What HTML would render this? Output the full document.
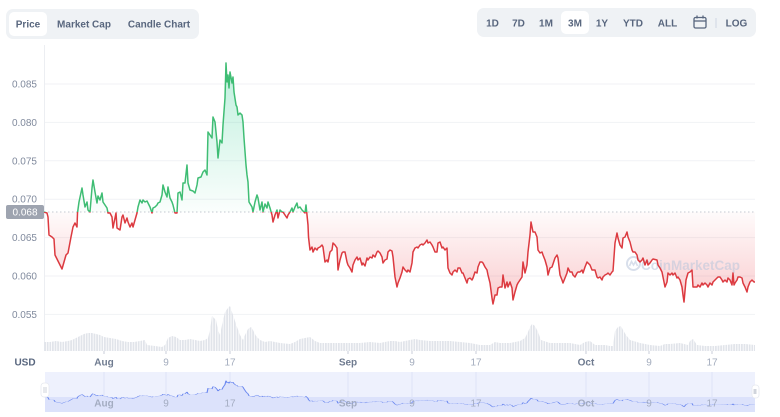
<!DOCTYPE html>
<html><head><meta charset="utf-8"><style>
html,body{margin:0;padding:0;background:#fff;}
body{width:780px;height:417px;overflow:hidden;font-family:"Liberation Sans",sans-serif;}
svg{display:block;}
</style></head><body>
<svg width="780" height="417" viewBox="0 0 780 417" xmlns="http://www.w3.org/2000/svg" font-family="Liberation Sans, sans-serif">
<defs>
<linearGradient id="gG" gradientUnits="userSpaceOnUse" x1="0" y1="63" x2="0" y2="212">
<stop offset="0" stop-color="#16c784" stop-opacity="0.28"/><stop offset="1" stop-color="#16c784" stop-opacity="0.02"/></linearGradient>
<linearGradient id="gR" gradientUnits="userSpaceOnUse" x1="0" y1="212" x2="0" y2="304">
<stop offset="0" stop-color="#ea3943" stop-opacity="0.02"/><stop offset="1" stop-color="#ea3943" stop-opacity="0.26"/></linearGradient>
<clipPath id="cA"><rect x="0" y="0" width="780" height="212"/></clipPath>
<clipPath id="cB"><rect x="0" y="212" width="780" height="150"/></clipPath>
<clipPath id="navc"><rect x="45" y="0" width="710" height="348.4"/></clipPath>
<pattern id="vp" patternUnits="userSpaceOnUse" width="2.6" height="10"><rect x="0" y="0" width="1.8" height="10" fill="#e1e4ea"/></pattern>
<path id="pl" d="M44,212 L47,213 48,217 49,235 52,237 54,239 55,255 57,259 60,265 62,269 64,262 66,255 68,253 71,237 73,227 75,223 77,227 77.5,213 79,202 82,188 83,195 85,207 87,202 88,210 90,212 92,188 93,180 95,192 97,203 98,196 100,200 102,193 103,202 105,205 107,208 108,213 110,213 112,217 113,228 116,213 117,228 120,230 122,217 123,215 125,223 127,218 128,222 130,227 132,223 133,227 135,220 137,213 138,207 140,200 142,203 143,200 145,202 147,201 148,203 150,207 152,213 153,208 155,207 157,205 158,203 160,202 162,195 163,185 165,192 167,197 168,187 170,198 172,202 173,205 175,213 177,213 178,193 180,192 182,200 183,183 185,183 187,165 188,183 190,190 193,191 195,193 197,185 198,178 201,177 203,172 205,170 207,175 208,132 210,135 212,138 213,117 215,122 217,142 218,158 220,140 222,143 223,125 225,98 226,63 227,82 228,75 229,88 230,72 232,83 233,77 234,92 236,105 237,107 238,115 240,113 242,115 243,122 244,138 246,165 247,175 248,182 249,202 252,207 253,212 255,202 257,195 258,198 260,210 262,202 263,212 265,204 267,208 268,202 270,208 272,215 273,222 275,215 277,210 278,218 280,210 282,212 283,212 285,215 287,218 288,215 290,212 292,208 293,212 295,207 297,203 298,208 300,207 302,210 305,213 306,205 307,215 308,225 308.5,237 310,250 312,247 313,252 315,248 317,250 318,248 320,247 322,245 323,247 325,262 327,260 328,262 330,252 332,250 333,243 335,245 337,248 338,270 340,260 342,253 343,252 345,252 347,262 348,265 350,268 352,272 353,265 355,260 357,257 358,260 360,258 362,265 363,263 365,266 367,258 368,260 370,257 372,258 373,255 375,257 377,252 378,251 380,253 382,257 383,263 385,260 387,259 388,252 390,250 392,251 393,257 395,277 397,287 398,283 400,278 402,272 403,267 405,270 407,272 408,270 410,272 412,263 413,252 415,248 417,247 418,248 420,245 422,244 423,245 425,243 427,240 428,243 430,242 432,245 433,247 435,252 437,252 438,243 440,242 442,248 443,247 445,250 447,248 448,268 450,273 452,275 453,272 455,270 457,272 458,268 460,268 462,273 463,273 465,278 467,283 468,279 470,278 472,280 473,278 475,272 477,273 478,267 480,262 482,262 483,263 485,267 487,270 488,275 490,283 492,298 493,304 495,295 497,295 498,288 500,287 502,287 503,275 505,288 507,282 508,287 510,282 512,288 513,300 515,292 517,285 518,283 520,280 522,277 523,262 525,273 527,265 528,252 530,235 531,222 533,232 535,232 537,237 538,250 540,253 542,252 543,255 545,260 547,267 548,275 550,268 552,267 555,258 557,255 558,258 560,275 562,280 563,283 565,278 567,273 568,268 570,272 572,272 573,275 575,277 577,273 578,272 580,272 582,270 583,273 585,267 587,262 588,263 590,265 592,270 593,270 595,270 597,277 598,278 600,277 602,280 603,277 605,275 607,274 608,273 610,275 612,272 613,271 615,243 617,233 618,238 620,245 622,248 623,238 625,237 627,232 628,237 630,242 632,250 633,252 635,252 637,255 638,260 640,262 642,260 643,258 645,265 647,260 648,265 650,263 652,260 653,259 657,260 658,265 660,268 662,272 663,277 665,287 667,282 668,273 670,275 672,273 673,275 675,273 677,278 678,277 680,280 682,287 683,295 684,302 686,280 688,273 690,272 692,270 693,287 695,287 697,287 698,285 700,287 702,283 703,285 705,283 707,285 708,287 710,283 712,285 713,282 715,280 717,278 718,277 720,277 722,280 723,282 725,280 727,282 728,278 730,280 732,285 733,273 734,285 735,283 737,280 738,277 740,277 742,278 743,283 745,287 747,292 748,287 750,282 752,280 754,282 755,282"/>
<path id="pa" d="M44,212 L47,213 48,217 49,235 52,237 54,239 55,255 57,259 60,265 62,269 64,262 66,255 68,253 71,237 73,227 75,223 77,227 77.5,213 79,202 82,188 83,195 85,207 87,202 88,210 90,212 92,188 93,180 95,192 97,203 98,196 100,200 102,193 103,202 105,205 107,208 108,213 110,213 112,217 113,228 116,213 117,228 120,230 122,217 123,215 125,223 127,218 128,222 130,227 132,223 133,227 135,220 137,213 138,207 140,200 142,203 143,200 145,202 147,201 148,203 150,207 152,213 153,208 155,207 157,205 158,203 160,202 162,195 163,185 165,192 167,197 168,187 170,198 172,202 173,205 175,213 177,213 178,193 180,192 182,200 183,183 185,183 187,165 188,183 190,190 193,191 195,193 197,185 198,178 201,177 203,172 205,170 207,175 208,132 210,135 212,138 213,117 215,122 217,142 218,158 220,140 222,143 223,125 225,98 226,63 227,82 228,75 229,88 230,72 232,83 233,77 234,92 236,105 237,107 238,115 240,113 242,115 243,122 244,138 246,165 247,175 248,182 249,202 252,207 253,212 255,202 257,195 258,198 260,210 262,202 263,212 265,204 267,208 268,202 270,208 272,215 273,222 275,215 277,210 278,218 280,210 282,212 283,212 285,215 287,218 288,215 290,212 292,208 293,212 295,207 297,203 298,208 300,207 302,210 305,213 306,205 307,215 308,225 308.5,237 310,250 312,247 313,252 315,248 317,250 318,248 320,247 322,245 323,247 325,262 327,260 328,262 330,252 332,250 333,243 335,245 337,248 338,270 340,260 342,253 343,252 345,252 347,262 348,265 350,268 352,272 353,265 355,260 357,257 358,260 360,258 362,265 363,263 365,266 367,258 368,260 370,257 372,258 373,255 375,257 377,252 378,251 380,253 382,257 383,263 385,260 387,259 388,252 390,250 392,251 393,257 395,277 397,287 398,283 400,278 402,272 403,267 405,270 407,272 408,270 410,272 412,263 413,252 415,248 417,247 418,248 420,245 422,244 423,245 425,243 427,240 428,243 430,242 432,245 433,247 435,252 437,252 438,243 440,242 442,248 443,247 445,250 447,248 448,268 450,273 452,275 453,272 455,270 457,272 458,268 460,268 462,273 463,273 465,278 467,283 468,279 470,278 472,280 473,278 475,272 477,273 478,267 480,262 482,262 483,263 485,267 487,270 488,275 490,283 492,298 493,304 495,295 497,295 498,288 500,287 502,287 503,275 505,288 507,282 508,287 510,282 512,288 513,300 515,292 517,285 518,283 520,280 522,277 523,262 525,273 527,265 528,252 530,235 531,222 533,232 535,232 537,237 538,250 540,253 542,252 543,255 545,260 547,267 548,275 550,268 552,267 555,258 557,255 558,258 560,275 562,280 563,283 565,278 567,273 568,268 570,272 572,272 573,275 575,277 577,273 578,272 580,272 582,270 583,273 585,267 587,262 588,263 590,265 592,270 593,270 595,270 597,277 598,278 600,277 602,280 603,277 605,275 607,274 608,273 610,275 612,272 613,271 615,243 617,233 618,238 620,245 622,248 623,238 625,237 627,232 628,237 630,242 632,250 633,252 635,252 637,255 638,260 640,262 642,260 643,258 645,265 647,260 648,265 650,263 652,260 653,259 657,260 658,265 660,268 662,272 663,277 665,287 667,282 668,273 670,275 672,273 673,275 675,273 677,278 678,277 680,280 682,287 683,295 684,302 686,280 688,273 690,272 692,270 693,287 695,287 697,287 698,285 700,287 702,283 703,285 705,283 707,285 708,287 710,283 712,285 713,282 715,280 717,278 718,277 720,277 722,280 723,282 725,280 727,282 728,278 730,280 732,285 733,273 734,285 735,283 737,280 738,277 740,277 742,278 743,283 745,287 747,292 748,287 750,282 752,280 754,282 755,282 L755,212 L44,212 Z"/>
</defs>

<!-- Top left button group -->
<rect x="6" y="9" width="193" height="30" rx="7" fill="#eff2f5"/>
<rect x="9" y="12" width="38" height="24" rx="5" fill="#ffffff"/>
<g font-size="10" font-weight="bold" fill="#58667e">
<text x="28" y="27.5" text-anchor="middle">Price</text>
<text x="84" y="27.5" text-anchor="middle">Market Cap</text>
<text x="159" y="27.5" text-anchor="middle">Candle Chart</text>
</g>

<!-- Top right button group -->
<rect x="477" y="8" width="279" height="29" rx="7" fill="#eff2f5"/>
<rect x="561" y="11" width="28" height="23" rx="5" fill="#ffffff"/>
<g font-size="10" font-weight="bold" fill="#58667e" text-anchor="middle">
<text x="492.5" y="26.5">1D</text>
<text x="518.5" y="26.5">7D</text>
<text x="546" y="26.5">1M</text>
<text x="575" y="26.5">3M</text>
<text x="602" y="26.5">1Y</text>
<text x="633" y="26.5">YTD</text>
<text x="667.5" y="26.5">ALL</text>
<text x="736.5" y="26.5">LOG</text>
</g>
<g fill="none" stroke="#58667e" stroke-width="1.3">
<rect x="694" y="17.5" width="12" height="10.5" rx="1.5"/>
<line x1="694" y1="21" x2="706" y2="21"/>
<line x1="697" y1="15.5" x2="697" y2="18.5"/>
<line x1="703" y1="15.5" x2="703" y2="18.5"/>
</g>
<line x1="716" y1="18" x2="716" y2="28" stroke="#cfd6e4" stroke-width="1"/>

<!-- grid -->
<g stroke="#f1f2f5" stroke-width="1">
<line x1="44" y1="84" x2="755" y2="84"/>
<line x1="44" y1="122.4" x2="755" y2="122.4"/>
<line x1="44" y1="160.8" x2="755" y2="160.8"/>
<line x1="44" y1="199.2" x2="755" y2="199.2"/>
<line x1="44" y1="237.6" x2="755" y2="237.6"/>
<line x1="44" y1="276" x2="755" y2="276"/>
<line x1="44" y1="314.4" x2="755" y2="314.4"/>
</g>
<line x1="44.5" y1="45" x2="44.5" y2="351" stroke="#eceef2" stroke-width="1"/>

<!-- y labels -->
<g font-size="10" fill="#808a9d" text-anchor="end">
<text x="37" y="87.5">0.085</text>
<text x="37" y="126">0.080</text>
<text x="37" y="164.3">0.075</text>
<text x="37" y="202.7">0.070</text>
<text x="37" y="241">0.065</text>
<text x="37" y="279.5">0.060</text>
<text x="37" y="318">0.055</text>
</g>

<!-- volume -->
<polygon fill="url(#vp)" points="44,342 50,342 56,341 62,342 68,341 72,340 76,338 80,336 84,334 88,333 92,333 96,334 100,335 104,337 110,338 116,339 122,341 128,342 134,342 140,341 145,340 147,345 155,346 162,347 165,345 168,338 172,336 176,337 180,340 185,340 190,339 195,340 200,341 205,340 208,338 210,330 212,316 214,318 216,320 218,330 220,335 222,325 225,312 228,308 230,306 232,312 234,318 237,327 240,335 243,340 245,335 248,329 251,327 253,330 256,336 260,340 265,342 270,341 275,342 280,343 290,344 295,342 300,339 305,338 310,337 315,341 320,343 330,343 340,343 350,343 360,343 370,342 380,343 390,341 395,341 400,342 410,340 415,339 420,340 430,341 440,341 450,341 460,342 470,343 480,345 490,345 495,342 500,343 510,343 515,342 520,341 525,338 528,332 530,327 532,324 535,326 538,332 541,340 550,343 560,343 570,343 580,345 585,342 590,341 595,345 605,345 610,346 613,346 615,331 618,327 621,326 623,330 626,335 630,340 640,343 650,345 660,346 665,344 670,344 680,343 688,345 690,341 693,339 697,345 705,346 715,346 725,345 735,344 745,344 755,345 755,351 44,351"/>

<!-- area fills -->
<g clip-path="url(#cA)"><use href="#pa" fill="url(#gG)" stroke="none"/></g>
<g clip-path="url(#cB)"><use href="#pa" fill="url(#gR)" stroke="none"/></g>

<!-- watermark -->
<g opacity="0.55">
<circle cx="633.5" cy="263.5" r="6.5" fill="none" stroke="#b9c6dc" stroke-width="2"/>
<path d="M629.5,266 L631.5,261.5 633.5,265 635.5,261.5 637.5,266" fill="none" stroke="#b9c6dc" stroke-width="1.6"/>
<text x="641" y="270" font-size="13.5" font-weight="bold" fill="#b9c6dc">CoinMarketCap</text>
</g>

<!-- baseline -->
<line x1="44" y1="212" x2="755" y2="212" stroke="#c3c8d0" stroke-width="1" stroke-dasharray="1.5 2.5"/>

<!-- price line -->
<g clip-path="url(#cA)"><use href="#pl" fill="none" stroke="#3fbd74" stroke-width="1.5" stroke-linejoin="round"/></g>
<g clip-path="url(#cB)"><use href="#pl" fill="none" stroke="#dc3a40" stroke-width="1.5" stroke-linejoin="round"/></g>

<!-- current price label -->
<rect x="6" y="205" width="38" height="14" rx="2" fill="#9ea4b0"/>
<text x="25" y="215.5" font-size="10" fill="#ffffff" text-anchor="middle">0.068</text>

<!-- x ticks -->
<g stroke="#c9ced8" stroke-width="1">
<line x1="104" y1="351" x2="104" y2="354"/><line x1="166" y1="351" x2="166" y2="354"/><line x1="230" y1="351" x2="230" y2="354"/>
<line x1="348" y1="351" x2="348" y2="354"/><line x1="412" y1="351" x2="412" y2="354"/><line x1="476" y1="351" x2="476" y2="354"/>
<line x1="586" y1="351" x2="586" y2="354"/><line x1="649" y1="351" x2="649" y2="354"/><line x1="712" y1="351" x2="712" y2="354"/>
</g>
<g font-size="10" text-anchor="middle">
<text x="25" y="365.5" font-weight="bold" fill="#58667e">USD</text>
<text x="104" y="365.5" font-weight="bold" fill="#6f7b90">Aug</text>
<text x="166" y="365.5" fill="#a3acbd">9</text>
<text x="230" y="365.5" fill="#a3acbd">17</text>
<text x="348" y="365.5" font-weight="bold" fill="#6f7b90">Sep</text>
<text x="412" y="365.5" fill="#a3acbd">9</text>
<text x="476" y="365.5" fill="#a3acbd">17</text>
<text x="586" y="365.5" font-weight="bold" fill="#6f7b90">Oct</text>
<text x="649" y="365.5" fill="#a3acbd">9</text>
<text x="712" y="365.5" fill="#a3acbd">17</text>
</g>

<!-- navigator -->
<rect x="45" y="372" width="710" height="39.5" fill="#eef1fd"/>
<g stroke="#dfe4f7" stroke-width="1">
<line x1="104" y1="372" x2="104" y2="411.5"/><line x1="166" y1="372" x2="166" y2="411.5"/><line x1="230" y1="372" x2="230" y2="411.5"/>
<line x1="348" y1="372" x2="348" y2="411.5"/><line x1="412" y1="372" x2="412" y2="411.5"/><line x1="476" y1="372" x2="476" y2="411.5"/>
<line x1="586" y1="372" x2="586" y2="411.5"/><line x1="649" y1="372" x2="649" y2="411.5"/><line x1="712" y1="372" x2="712" y2="411.5"/>
</g>
<g transform="matrix(1 0 0 0.11 0 373.68)">
<g clip-path="url(#navc)">
<use href="#pa" fill="#dce2fb" stroke="none"/>
<rect x="44" y="212" width="711" height="136.4" fill="#dce2fb"/>
</g>
<use href="#pl" fill="none" stroke="#6b88ef" stroke-width="1.2" vector-effect="non-scaling-stroke"/>
</g>
<g font-size="10" text-anchor="middle" fill="#9aa3b8" opacity="0.85">
<text x="104" y="406.5" font-weight="bold">Aug</text>
<text x="166" y="406.5">9</text>
<text x="230" y="406.5">17</text>
<text x="348" y="406.5" font-weight="bold">Sep</text>
<text x="412" y="406.5">9</text>
<text x="476" y="406.5">17</text>
<text x="586" y="406.5" font-weight="bold">Oct</text>
<text x="649" y="406.5">9</text>
<text x="712" y="406.5">17</text>
</g>
<!-- handles -->
<rect x="41" y="383" width="8" height="14" rx="3" fill="#ffffff" stroke="#e6e9f0" stroke-width="0.8"/>
<line x1="44" y1="387" x2="44" y2="393" stroke="#c3c8d2" stroke-width="0.8"/>
<line x1="46" y1="387" x2="46" y2="393" stroke="#c3c8d2" stroke-width="0.8"/>
<rect x="752" y="385" width="7" height="13" rx="3" fill="#ffffff" stroke="#e6e9f0" stroke-width="0.8"/>
<rect x="753.5" y="389" width="3" height="5" fill="#d0d4dc"/>
</svg>
</body></html>
